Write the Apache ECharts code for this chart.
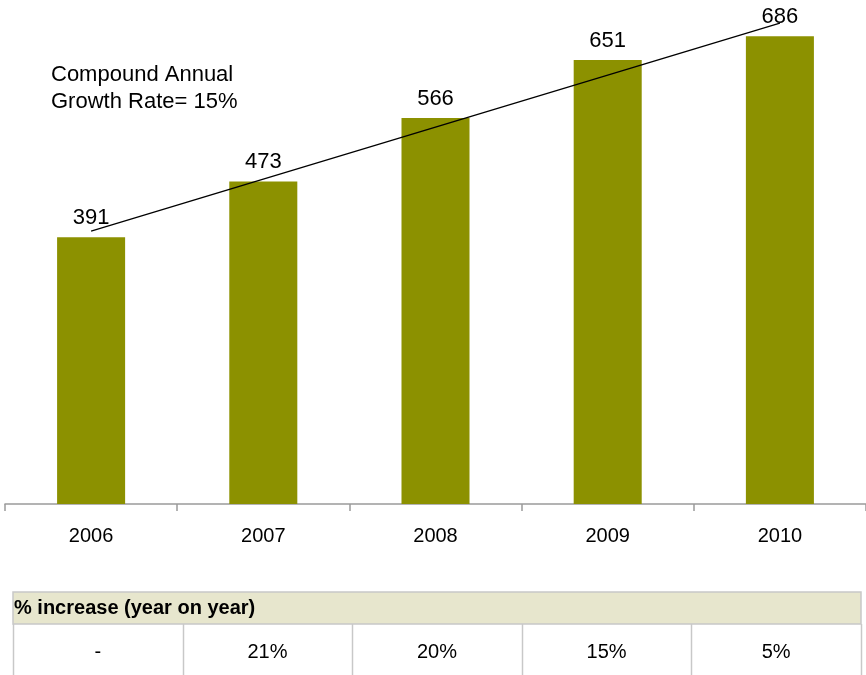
<!DOCTYPE html>
<html>
<head>
<meta charset="utf-8">
<style>
  html, body { margin: 0; padding: 0; background: #ffffff; }
  #chart { width: 866px; height: 675px; }
</style>
<script src="https://cdn.jsdelivr.net/npm/echarts@6/dist/echarts.min.js"></script>
</head>
<body>
<div id="chart"></div>
<script>
// Yearly totals
const years = ['2006', '2007', '2008', '2009', '2010'];
const totals = [391, 473, 566, 651, 686];
// Compound growth trend line, drawn from the first to the last year
const trend = [400, null, null, null, 705];
// Year-on-year increase shown in the table under the chart
const tableTitle = '% increase (year on year)';
const pctIncrease = ['-', '21%', '20%', '15%', '5%'];
const cagrText = 'Compound Annual\nGrowth Rate= 15%';

const FONT = '"Liberation Sans", Arial, sans-serif';
const chart = echarts.init(document.getElementById('chart'), null, { renderer: 'canvas' });

// Table: header row plus one row of values
const tableLeft = 13, tableRight = 861, headTop = 592, headBottom = 624, rowBottom = 690;
const colW = (tableRight - tableLeft) / pctIncrease.length;
const border = '#c8c8c8';
const tableGraphics = [
  { type: 'rect', shape: { x: tableLeft, y: headTop, width: tableRight - tableLeft, height: headBottom - headTop },
    style: { fill: '#e7e6cd', stroke: border, lineWidth: 1.5 } },
  { type: 'text', left: tableLeft + 1, top: headTop + 6,
    style: { text: tableTitle, font: 'bold 20px ' + FONT, fill: '#000' } }
];
for (let i = 0; i <= pctIncrease.length; i++) {
  const x = Math.round(tableLeft + i * colW) + 0.5;
  tableGraphics.push({ type: 'line', shape: { x1: x, y1: headBottom, x2: x, y2: rowBottom },
    style: { stroke: border, lineWidth: 1.5 } });
}
pctIncrease.forEach((v, i) => {
  tableGraphics.push({ type: 'text', x: tableLeft + (i + 0.5) * colW, y: 652,
    style: { text: v, font: '20px ' + FONT, fill: '#000', align: 'center', verticalAlign: 'middle' } });
});

chart.setOption({
  animation: false,
  backgroundColor: '#ffffff',
  grid: { left: 5, right: -2, top: 0, height: 504, containLabel: false },
  xAxis: {
    type: 'category',
    data: years,
    axisLine: { lineStyle: { color: '#9a9a9a', width: 1.5 } },
    axisTick: { show: true, length: 7, alignWithLabel: false, lineStyle: { color: '#9a9a9a', width: 1.5 } },
    axisLabel: { color: '#000', fontSize: 20, fontFamily: FONT, margin: 22 }
  },
  yAxis: {
    type: 'value', min: 0, max: 739,
    show: false, splitLine: { show: false }
  },
  series: [
    {
      type: 'bar',
      data: totals,
      barWidth: '39.5%',
      itemStyle: { color: '#8c9100' },
      label: { show: true, position: 'top', distance: 8, color: '#000', fontSize: 22, fontFamily: FONT }
    },
    {
      type: 'line',
      data: trend,
      connectNulls: true,
      symbol: 'none',
      lineStyle: { color: '#000', width: 1.3 },
      z: 5
    }
  ],
  graphic: [
    { type: 'text', left: 51, top: 61,
      style: { text: cagrText, font: '22px ' + FONT, fill: '#000', lineHeight: 27 } },
    ...tableGraphics
  ]
});
</script>
</body>
</html>
